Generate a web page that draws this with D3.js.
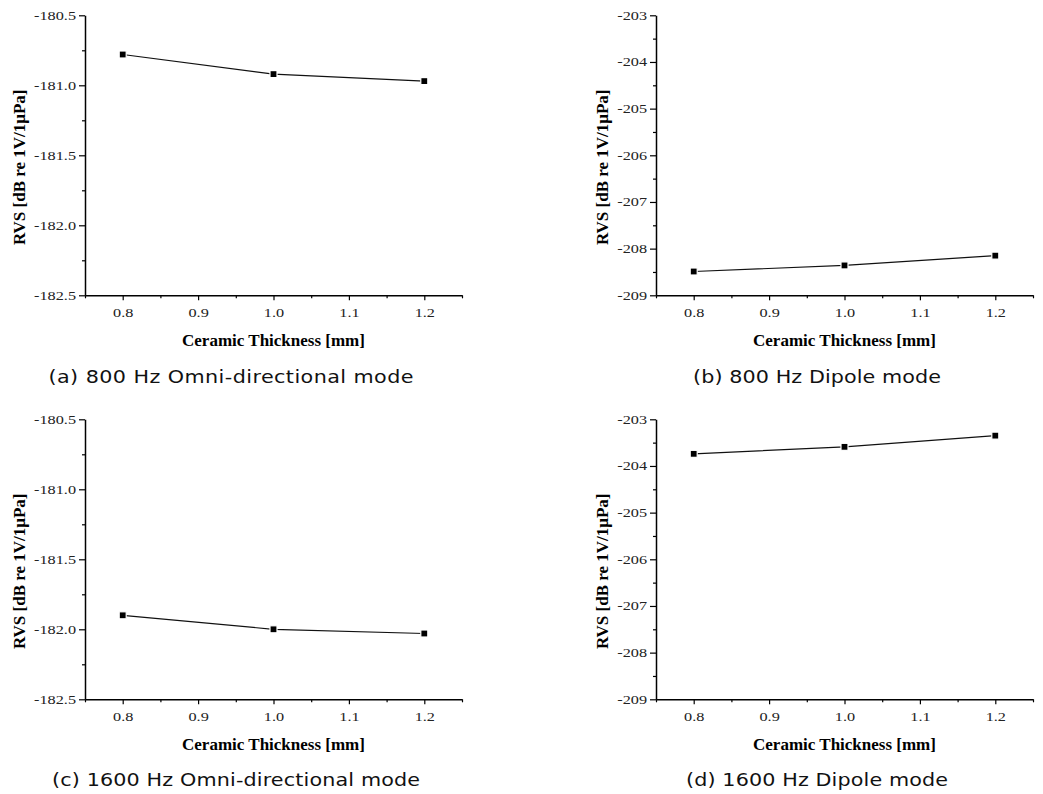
<!DOCTYPE html>
<html>
<head>
<meta charset="utf-8">
<script src="https://cdn.jsdelivr.net/npm/d3@7"></script>
<style>
  body { margin: 0; background: #fff; }
  svg { display: block; }
</style>
</head>
<body>
<div id="chart"></div>
<script>
// data
const thickness = [0.8, 1.0, 1.2];
const omni800 = [-180.78, -180.92, -180.97];
const dipole800 = [-208.49, -208.36, -208.15];
const omni1600 = [-181.90, -182.00, -182.03];
const dipole1600 = [-203.74, -203.59, -203.35];

const xTicks = [0.8, 0.9, 1.0, 1.1, 1.2];
const xMinor = [0.75, 0.85, 0.95, 1.05, 1.15, 1.25];
const omniTicks = [-180.5, -181.0, -181.5, -182.0, -182.5];
const omniMinor = [-180.75, -181.25, -181.75, -182.25];
const dipoleTicks = [-203, -204, -205, -206, -207, -208, -209];
const dipoleMinor = [-203.5, -204.5, -205.5, -206.5, -207.5, -208.5];

const captions = [
  '(a) 800 Hz Omni-directional mode',
  '(b) 800 Hz Dipole mode',
  '(c) 1600 Hz Omni-directional mode',
  '(d) 1600 Hz Dipole mode'
];

const W = 1043, H = 794;
const svg = d3.select('#chart').append('svg')
  .attr('width', W).attr('height', H);

const panels = [
  { left: 85, top: 15.3, values: omni800, ticks: omniTicks, minor: omniMinor, fmt: '.1f', cap: captions[0], capX: 231, capY: 383, capW: 365 },
  { left: 656, top: 15.3, values: dipole800, ticks: dipoleTicks, minor: dipoleMinor, fmt: 'd', cap: captions[1], capX: 817, capY: 383, capW: 248 },
  { left: 85, top: 419.3, values: omni1600, ticks: omniTicks, minor: omniMinor, fmt: '.1f', cap: captions[2], capX: 236, capY: 786, capW: 368 },
  { left: 656, top: 419.3, values: dipole1600, ticks: dipoleTicks, minor: dipoleMinor, fmt: 'd', cap: captions[3], capX: 817, capY: 786, capW: 262 }
];

const pw = 377, ph = 280;
const serif = 'Liberation Serif, Times New Roman, serif';
const stretch = 1.3;
const capStretch = 1.15;
// plain hyphen for negatives, like the original
const hyph = f => v => d3.format(f)(v).replace('\u2212', '-');

panels.forEach(p => {
  const g = svg.append('g').attr('transform', `translate(${p.left},${p.top})`);

  const x = d3.scaleLinear().domain([0.75, 1.25]).range([0, pw]);
  const y = d3.scaleLinear()
    .domain([d3.min(p.ticks), d3.max(p.ticks)])
    .range([ph, 0]);

  // minor ticks
  g.append('g')
    .call(d3.axisLeft(y).tickValues(p.minor).tickSize(3).tickFormat('').tickSizeOuter(0))
    .call(a => a.select('.domain').remove());
  g.append('g')
    .attr('transform', `translate(0,${ph})`)
    .call(d3.axisBottom(x).tickValues(xMinor).tickSize(3).tickFormat('').tickSizeOuter(0))
    .call(a => a.select('.domain').remove());

  // y axis
  const yAxis = g.append('g')
    .call(d3.axisLeft(y).tickValues(p.ticks).tickSize(6).tickSizeOuter(0).tickFormat(hyph(p.fmt)))
    .attr('font-family', serif).attr('font-size', 12.5);
  yAxis.selectAll('text')
    .attr('x', -9 / stretch)
    .attr('transform', `scale(${stretch},1)`)
    .attr('fill', '#222');

  // x axis
  const xAxis = g.append('g')
    .attr('transform', `translate(0,${ph})`)
    .call(d3.axisBottom(x).tickValues(xTicks).tickSize(5).tickSizeOuter(0).tickFormat(hyph('.1f')))
    .attr('font-family', serif).attr('font-size', 12.5);
  xAxis.selectAll('text')
    .attr('y', 13)
    .attr('transform', `scale(${stretch},1)`)
    .attr('fill', '#222');

  g.selectAll('.domain').attr('stroke', '#000').attr('stroke-width', 1.5);
  g.selectAll('.tick line').attr('stroke', '#000').attr('stroke-width', 1.2);

  // axis titles
  g.append('text')
    .attr('x', pw / 2).attr('y', ph + 51)
    .attr('text-anchor', 'middle')
    .attr('font-family', serif).attr('font-size', 17).attr('font-weight', 'bold')
    .text('Ceramic Thickness [mm]');

  const labelLeft = yAxis.node().getBBox().x;
  g.append('text')
    .attr('transform', `translate(${labelLeft - 9},${152}) rotate(-90)`)
    .attr('text-anchor', 'middle')
    .attr('font-family', serif).attr('font-size', 17).attr('font-weight', 'bold')
    .text('RVS [dB re 1V/1μPa]');

  // line + markers
  const pts = thickness.map((t, i) => [t, p.values[i]]);
  g.append('path')
    .datum(pts)
    .attr('fill', 'none').attr('stroke', '#111').attr('stroke-width', 1.2)
    .attr('d', d3.line().x(d => x(d[0])).y(d => y(d[1])));

  g.selectAll('.mark').data(pts).enter().append('rect')
    .attr('class', 'mark')
    .attr('x', d => x(d[0]) - 3.5).attr('y', d => y(d[1]) - 3.5)
    .attr('width', 7).attr('height', 7)
    .attr('fill', '#000').attr('stroke', '#fff').attr('stroke-width', 1.2);

  // caption
  svg.append('text')
    .attr('transform', `translate(${p.capX},${p.capY}) scale(${capStretch},1)`)
    .attr('text-anchor', 'middle')
    .attr('textLength', p.capW / capStretch).attr('lengthAdjust', 'spacing')
    .attr('font-family', 'DejaVu Sans, sans-serif').attr('font-size', 18)
    .attr('fill', '#111')
    .text(p.cap);
});
</script>
</body>
</html>
